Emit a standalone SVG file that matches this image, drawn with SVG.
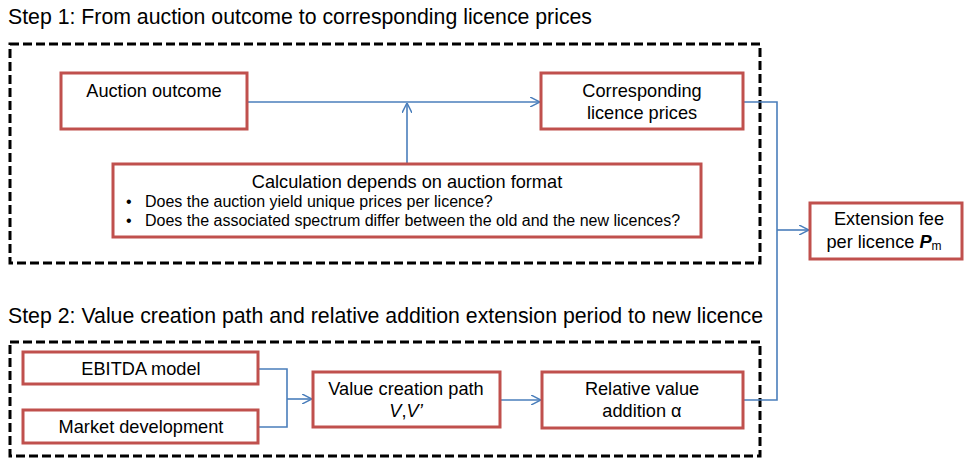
<svg xmlns="http://www.w3.org/2000/svg" width="964" height="458" viewBox="0 0 964 458">
<defs>
<marker id="arr" viewBox="0 0 10 10" refX="10" refY="5" markerWidth="10" markerHeight="10" markerUnits="userSpaceOnUse" orient="auto">
<path d="M0,0 L10,5 L0,10" fill="none" stroke="#4a7ebb" stroke-width="1.5"/>
</marker>
<style>
.box{fill:#fff;stroke:#c0504d;stroke-width:3}
.grp{fill:none;stroke:#000;stroke-width:3;stroke-dasharray:9,4}
.t{font-family:"Liberation Sans",Arial,sans-serif;font-size:18.2px;fill:#000;text-anchor:middle}
.s{font-family:"Liberation Sans",Arial,sans-serif;font-size:16px;fill:#000}
.h{font-family:"Liberation Sans",Arial,sans-serif;font-size:21.2px;fill:#000}
.c{fill:none;stroke:#4a7ebb;stroke-width:1.6}
</style>
</defs>
<rect width="964" height="458" fill="#fff"/>
<text class="h" x="8" y="24" textLength="584" lengthAdjust="spacingAndGlyphs">Step 1: From auction outcome to corresponding licence prices</text>
<text class="h" x="8" y="323" textLength="755" lengthAdjust="spacingAndGlyphs">Step 2: Value creation path and relative addition extension period to new licence</text>
<rect class="grp" x="10" y="44" width="750" height="219"/>
<rect class="grp" x="10" y="342" width="750" height="114"/>
<g id="connectors">
<path class="c" d="M247,102 H540" marker-end="url(#arr)"/>
<path class="c" d="M407,164 V103" marker-end="url(#arr)"/>
<path class="c" d="M743,102 H777 V400 H743"/>
<path class="c" d="M777,230 H809" marker-end="url(#arr)"/>
<path class="c" d="M258,369 H287 V427 H258"/>
<path class="c" d="M287,399 H312" marker-end="url(#arr)"/>
<path class="c" d="M500,400 H541" marker-end="url(#arr)"/>
</g>
<g id="auction">
<rect class="box" x="61" y="73" width="186" height="56"/>
<text class="t" x="154" y="97">Auction outcome</text>
</g>
<g id="prices">
<rect class="box" x="541" y="73" width="202" height="56"/>
<text class="t" x="642" y="97">Corresponding</text>
<text class="t" x="642" y="119">licence prices</text>
</g>
<g id="calc">
<rect class="box" x="113" y="164" width="588" height="73"/>
<text class="t" x="407" y="188">Calculation depends on auction format</text>
<text class="s" x="126" y="207">•</text>
<text class="s" x="145" y="207">Does the auction yield unique prices per licence?</text>
<text class="s" x="126" y="226">•</text>
<text class="s" x="145" y="226">Does the associated spectrum differ between the old and the new licences?</text>
</g>
<g id="fee">
<rect class="box" x="810" y="203" width="152" height="56"/>
<text class="t" x="889" y="225">Extension fee</text>
<text class="t" x="884" y="248">per licence <tspan font-weight="bold" font-style="italic">P</tspan><tspan font-size="12" dy="2">m</tspan></text>
</g>
<g id="ebitda">
<rect class="box" x="23" y="352" width="235" height="32"/>
<text class="t" x="141" y="375">EBITDA model</text>
</g>
<g id="market">
<rect class="box" x="23" y="410" width="235" height="33"/>
<text class="t" x="141" y="433">Market development</text>
</g>
<g id="value">
<rect class="box" x="313" y="372" width="187" height="55"/>
<text class="t" x="406" y="395">Value creation path</text>
<text class="t" x="406" y="417"><tspan font-style="italic">V</tspan>,<tspan font-style="italic">V’</tspan></text>
</g>
<g id="relative">
<rect class="box" x="542" y="372" width="201" height="56"/>
<text class="t" x="642" y="395">Relative value</text>
<text class="t" x="642" y="417">addition α</text>
</g>
</svg>
